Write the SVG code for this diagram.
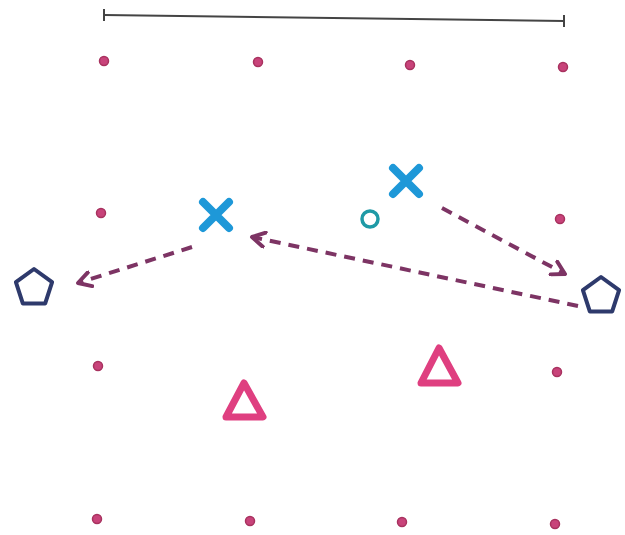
<svg xmlns="http://www.w3.org/2000/svg" width="625" height="535" viewBox="0 0 625 535">
<style>
.dot{fill:#c8437a;stroke:#a8325f;stroke-width:1.5}
.x{stroke:#1e98d8;stroke-width:8;stroke-linecap:round}
.pent{fill:none;stroke:#2e3a6c;stroke-width:4;stroke-linejoin:round}
.tri{fill:none;stroke:#df3f80;stroke-width:7;stroke-linejoin:round}
.edge{fill:none;stroke:#7d3464;stroke-width:4;stroke-dasharray:11 8}
.scale{fill:none;stroke:#444;stroke-width:2}
</style>
<defs>
<marker id="ah" viewBox="0 0 10 10" refX="8" refY="5" markerWidth="4.5" markerHeight="4.5" orient="auto" markerUnits="strokeWidth">
<path d="M1,1 L8,5 L1,9" fill="none" stroke="#7d3464" stroke-width="2.2" stroke-linecap="round" stroke-linejoin="round"/>
</marker>
</defs>
<rect width="625" height="535" fill="#ffffff"/>
<g id="scale">
<path class="scale" d="M104,15 L564,21"/>
<path class="scale" d="M104,9 L104,21 M564,15 L564,27"/>
</g>
<g id="grid">
<circle class="dot" cx="104" cy="61" r="4.5"/>
<circle class="dot" cx="258" cy="62" r="4.5"/>
<circle class="dot" cx="410" cy="65" r="4.5"/>
<circle class="dot" cx="563" cy="67" r="4.5"/>
<circle class="dot" cx="101" cy="213" r="4.5"/>
<circle class="dot" cx="560" cy="219" r="4.5"/>
<circle class="dot" cx="98" cy="366" r="4.5"/>
<circle class="dot" cx="557" cy="372" r="4.5"/>
<circle class="dot" cx="97" cy="519" r="4.5"/>
<circle class="dot" cx="250" cy="521" r="4.5"/>
<circle class="dot" cx="402" cy="522" r="4.5"/>
<circle class="dot" cx="555" cy="524" r="4.5"/>
</g>
<g id="connectors">
<path class="edge" d="M192,247 L78,283" marker-end="url(#ah)"/>
<path class="edge" d="M442,208 L565,274" marker-end="url(#ah)"/>
<path class="edge" d="M578,306 L252,237" marker-end="url(#ah)"/>
</g>
<g id="x1"><path class="x" d="M203,202 L229,228 M229,202 L203,228"/></g>
<g id="x2"><path class="x" d="M393,168 L419,194 M419,168 L393,194"/></g>
<g id="o1"><circle cx="370" cy="219" r="8" fill="none" stroke="#1f9aa6" stroke-width="3.5"/></g>
<g id="p1"><polygon class="pent" points="34,269 52.1,282.1 45.2,303.4 22.8,303.4 15.9,282.1"/></g>
<g id="p2"><polygon class="pent" points="601,277 619.1,290.1 612.2,311.4 589.8,311.4 582.9,290.1"/></g>
<g id="t1"><polygon class="tri" points="244,383 263,417 226,417"/></g>
<g id="t2"><polygon class="tri" points="439,348 458,383 421,383"/></g>
</svg>
